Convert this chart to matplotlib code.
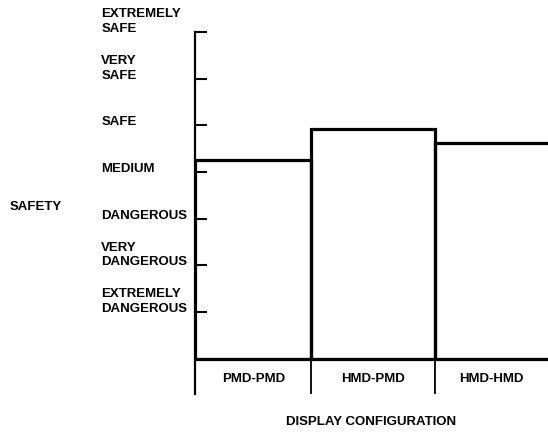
import matplotlib
matplotlib.use("Agg")
import matplotlib.pyplot as plt
import numpy as np

plt.rcParams["font.family"] = ["Liberation Sans", "DejaVu Sans"]
plt.rcParams["font.weight"] = "bold"

# safety scale, 1 = extremely dangerous ... 7 = extremely safe
scale_values = [1, 2, 3, 4, 5, 6, 7]
scale_labels = [
    "EXTREMELY\nDANGEROUS",
    "VERY\nDANGEROUS",
    "DANGEROUS",
    "MEDIUM",
    "SAFE",
    "VERY\nSAFE",
    "EXTREMELY\nSAFE",
]

configs = ["PMD-PMD", "HMD-PMD", "HMD-HMD"]
# last bar runs off the right edge of the page
config_edges = [0.0, 0.99, 2.04, 3.2]
safety = [4.26, 4.92, 4.62]

FS = 9.5

fig = plt.figure(figsize=(5.48, 4.32), dpi=100)
ax = fig.add_axes([195 / 548, 38 / 432, 353 / 548, 362 / 432])

edges = np.array(config_edges)
lefts = edges[:-1]
widths = np.diff(edges)
centers = (lefts + np.minimum(edges[1:], 3.0)) / 2

ax.bar(lefts, safety, width=widths, align="edge", fill=False,
       edgecolor="black", linewidth=2.3)
ax.axhline(0, color="black", linewidth=1.5)
# separators under the baseline
ax.vlines(edges[1:-1], -0.76, 0, color="black", linewidth=1.3)

ax.set_xlim(0, 3)
ax.set_ylim(-0.76, 7)

for s in ["top", "right", "bottom"]:
    ax.spines[s].set_visible(False)
ax.spines["left"].set_linewidth(1.6)
ax.spines["left"].set_zorder(3)

ax.set_xticks([])
ax.set_yticks(scale_values, scale_labels)
ax.tick_params(axis="y", direction="in", length=8.5, width=1.5, pad=67.5)
for lab in ax.get_yticklabels():
    lab.set_horizontalalignment("left")
    lab.set_verticalalignment("baseline")
    lab.set_fontsize(FS)
    lab.set_fontweight("bold")
    lab.set_linespacing(1.3)

for x, name in zip(centers, configs):
    ax.text(x, -0.43, name, ha="center", va="center", fontsize=FS,
            fontweight="bold")

ax.set_xlabel("DISPLAY CONFIGURATION", fontsize=FS, fontweight="bold",
              labelpad=16)
ax.set_ylabel("SAFETY", fontsize=FS, fontweight="bold", rotation=0,
              ha="left", va="center")
ax.yaxis.set_label_coords(-0.524, 0.517)

fig.savefig("out.png", dpi=100)
